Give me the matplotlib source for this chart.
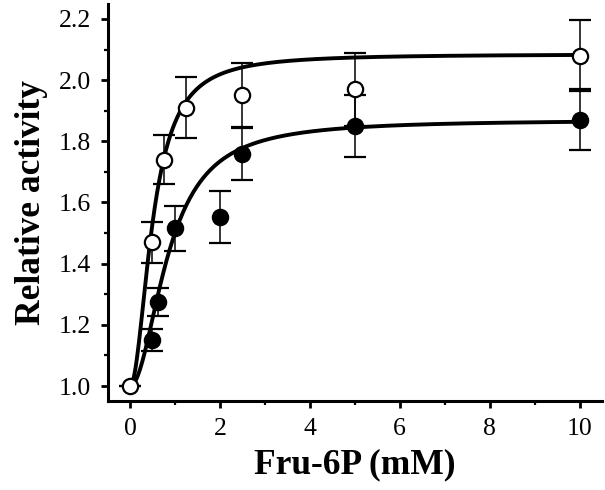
import numpy as np
import matplotlib
matplotlib.use("Agg")
import matplotlib.pyplot as plt
from matplotlib.ticker import MultipleLocator

# Data
x_open = [0, 0.5, 0.75, 1.25, 2.5, 5, 10]
y_open = [1.0, 1.47, 1.74, 1.91, 1.95, 1.97, 2.08]
err_open = [0, 0.067, 0.08, 0.10, 0.105, 0.12, 0.115]

x_filled = [0.5, 0.63, 1.0, 2.0, 2.5, 5, 10]
y_filled = [1.15, 1.275, 1.515, 1.553, 1.76, 1.85, 1.87]
err_filled = [0.037, 0.045, 0.075, 0.085, 0.087, 0.10, 0.10]

# Hill fit parameters (base, amplitude, K, n)
fit_open = (1.0, 1.085, 0.51, 2.0)
fit_filled = (1.0, 0.87, 0.86, 2.0)


def hill(x, base, amp, k, n):
    return base + amp * x**n / (k**n + x**n)


plt.rcParams["font.family"] = ["Liberation Serif", "DejaVu Serif"]

fig = plt.figure(figsize=(6.05, 4.9), dpi=100)
ax = fig.add_axes([0.1785, 0.1816, 0.8165, 0.8104])

xs = np.linspace(0, 10, 400)
ax.plot(xs, hill(xs, *fit_open), color="black", lw=2.8, zorder=2)
ax.plot(xs, hill(xs, *fit_filled), color="black", lw=2.8, zorder=2)

ax.errorbar(x_open, y_open, yerr=err_open, fmt="o", ms=11,
            mfc="white", mec="black", mew=1.6, ecolor="black",
            elinewidth=1.1, capsize=8, capthick=1.3, zorder=3)
ax.errorbar(x_filled, y_filled, yerr=err_filled, fmt="o", ms=11,
            mfc="black", mec="black", mew=1.6, ecolor="black",
            elinewidth=1.1, capsize=8, capthick=1.3, zorder=3)

ax.set_xlim(-0.49, 10.5)
ax.set_ylim(0.951, 2.249)

ax.xaxis.set_major_locator(MultipleLocator(2))
ax.xaxis.set_minor_locator(MultipleLocator(1))
ax.yaxis.set_major_locator(MultipleLocator(0.2))
ax.yaxis.set_minor_locator(MultipleLocator(0.1))
ax.yaxis.set_major_formatter(plt.FormatStrFormatter("%.1f"))

for side in ["top", "right"]:
    ax.spines[side].set_visible(False)
for side in ["left", "bottom"]:
    ax.spines[side].set_linewidth(2.2)

ax.tick_params(which="major", direction="out", length=5, width=2,
               labelsize=18.5, pad=7)
ax.tick_params(which="minor", direction="out", length=3, width=1.6)

ax.set_xlabel("Fru-6P (mM)", fontsize=25.5, fontweight="bold", labelpad=6)
ax.set_ylabel("Relative activity", fontsize=25.5, fontweight="bold", labelpad=8)

fig.savefig("out.png", dpi=100)
